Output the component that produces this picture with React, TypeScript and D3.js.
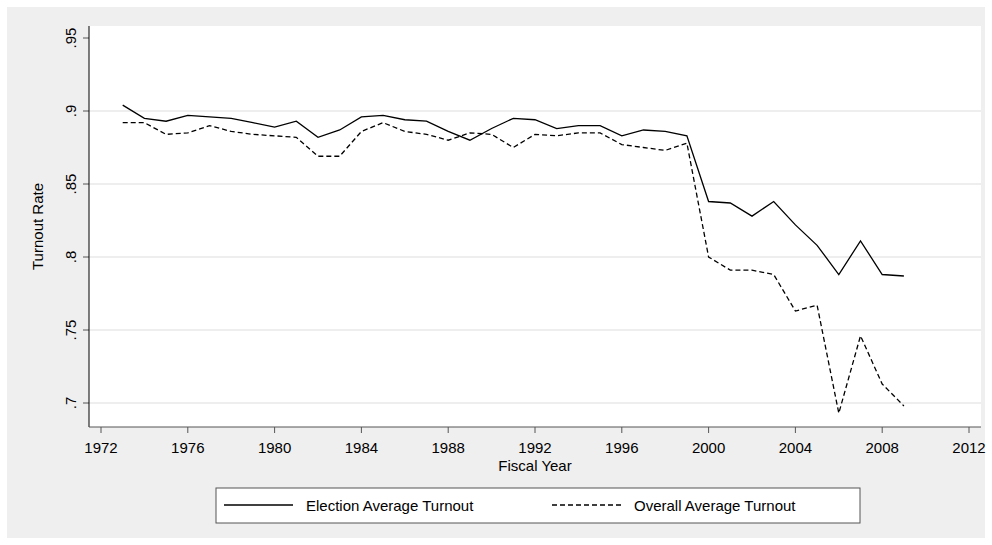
import * as d3 from 'd3'
import React from 'react'

const years = d3.range(1973, 2010)
const electionTurnout = [
  0.904, 0.895, 0.893, 0.897, 0.896, 0.895, 0.892, 0.889, 0.893, 0.882, 0.887, 0.896, 0.897,
  0.894, 0.893, 0.886, 0.88, 0.888, 0.895, 0.894, 0.888, 0.89, 0.89, 0.883, 0.887, 0.886,
  0.883, 0.838, 0.837, 0.828, 0.838, 0.822, 0.808, 0.788, 0.811, 0.788, 0.787,
]
const overallTurnout = [
  0.892, 0.892, 0.884, 0.885, 0.89, 0.886, 0.884, 0.883, 0.882, 0.869, 0.869, 0.886, 0.892,
  0.886, 0.884, 0.88, 0.885, 0.884, 0.875, 0.884, 0.883, 0.885, 0.885, 0.877, 0.875, 0.873,
  0.878, 0.8, 0.791, 0.791, 0.788, 0.763, 0.767, 0.693, 0.746, 0.713, 0.698,
]
const xTicks = d3.range(1972, 2013, 4)
const yTicks = [0.7, 0.75, 0.8, 0.85, 0.9, 0.95]
const yTickLabels = ['.7', '.75', '.8', '.85', '.9', '.95']

const App = () => {
  const W = 992
  const H = 545
  const plot = { left: 89, right: 981, top: 26, bottom: 427 }
  const x = d3.scaleLinear().domain([1972, 2012]).range([101, 969])
  const y = d3.scaleLinear().domain([0.7, 0.95]).range([403, 38])
  const font = 'Liberation Sans, Arial, sans-serif'

  const line = (vals: number[]) =>
    d3.line<number>().x((_, i) => x(years[i])).y((d) => y(d))(vals) || ''

  return (
    <svg width={W} height={H} style={{ position: 'absolute', left: 0, top: 0 }} fontFamily={font}>
      <rect width={W} height={H} fill="#fff" />
      <rect x={7} y={7} width={W - 14} height={H - 14} fill="#efefef" />
      <rect x={plot.left} y={plot.top} width={plot.right - plot.left} height={plot.bottom - plot.top} fill="#fff" />
      {yTicks.map((t, i) => (
        <g key={t}>
          {i < yTicks.length - 1 && (
            <line x1={plot.left} x2={plot.right} y1={y(t)} y2={y(t)} stroke="#e8e8e8" strokeWidth={1.5} />
          )}
          <line x1={plot.left - 6} x2={plot.left} y1={y(t)} y2={y(t)} stroke="#555" />
          <text
            transform={`translate(${plot.left - 13},${y(t)}) rotate(-90)`}
            textAnchor="middle"
            fontSize={15}
          >
            {yTickLabels[i]}
          </text>
        </g>
      ))}
      {xTicks.map((t) => (
        <g key={t}>
          <line x1={x(t)} x2={x(t)} y1={plot.bottom} y2={plot.bottom + 6} stroke="#555" />
          <text x={x(t)} y={plot.bottom + 26} textAnchor="middle" fontSize={15}>
            {t}
          </text>
        </g>
      ))}
      <line x1={plot.left} x2={plot.left} y1={plot.top} y2={plot.bottom} stroke="#000" />
      <line x1={plot.left} x2={plot.right} y1={plot.bottom} y2={plot.bottom} stroke="#555" />
      <text transform={`translate(43,${(plot.top + plot.bottom) / 2}) rotate(-90)`} textAnchor="middle" fontSize={15}>
        Turnout Rate
      </text>
      <text x={(plot.left + plot.right) / 2} y={471} textAnchor="middle" fontSize={15}>
        Fiscal Year
      </text>
      <path d={line(overallTurnout)} fill="none" stroke="#000" strokeWidth={1.3} strokeDasharray="5,3" />
      <path d={line(electionTurnout)} fill="none" stroke="#000" strokeWidth={1.3} />
      <rect x={216} y={488} width={644} height={35} fill="#fff" stroke="#555" />
      <line x1={224} x2={293} y1={505} y2={505} stroke="#000" strokeWidth={1.3} />
      <text x={306} y={511} fontSize={15}>Election Average Turnout</text>
      <line x1={552} x2={621} y1={505} y2={505} stroke="#000" strokeWidth={1.3} strokeDasharray="5,3" />
      <text x={634} y={511} fontSize={15}>Overall Average Turnout</text>
    </svg>
  )
}

export default App
